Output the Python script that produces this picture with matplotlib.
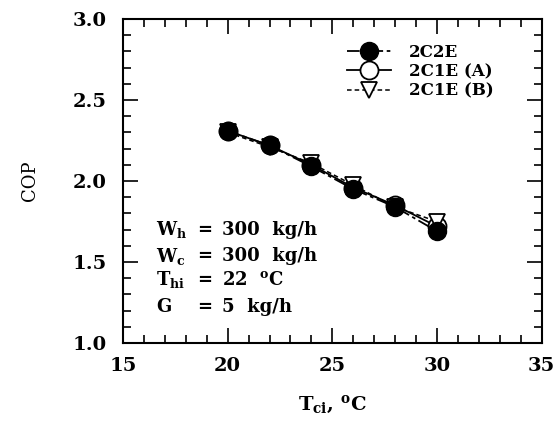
import numpy as np
import matplotlib.pyplot as plt
from matplotlib.ticker import MultipleLocator

plt.rcParams['font.family'] = 'DejaVu Serif'
plt.rcParams['mathtext.fontset'] = 'dejavuserif'

# inlet cooling-water temperature, deg C
t_ci = [20, 22, 24, 26, 28, 30]
cop_2c2e = [2.31, 2.22, 2.09, 1.95, 1.84, 1.69]
cop_2c1e_a = [2.31, 2.22, 2.10, 1.96, 1.85, 1.72]
cop_2c1e_b = [2.30, 2.21, 2.11, 1.975, 1.84, 1.75]

cond_names = [r'$\mathbf{W_h}$', r'$\mathbf{W_c}$', r'$\mathbf{T_{hi}}$', 'G']
cond_values = ['300  kg/h', '300  kg/h', r'22  $\mathbf{^o}$C', '5  kg/h']

fig = plt.figure(figsize=(5.59, 4.24), dpi=100)
ax = fig.add_axes([0.220, 0.191, 0.749, 0.764])

ax.plot(t_ci, cop_2c2e, color='black', lw=1.3, ls=(0, (7, 2, 2, 2)),
        marker='o', ms=13, mfc='black', mec='black', label='2C2E', zorder=4)
ax.plot(t_ci, cop_2c1e_a, color='black', lw=1.3, ls='-',
        marker='o', ms=13, mfc='white', mec='black', mew=1.3, label='2C1E (A)')
ax.plot(t_ci, cop_2c1e_b, color='black', lw=1.1, ls=(0, (3, 2)),
        marker='v', ms=12, mfc='white', mec='black', mew=1.3, label='2C1E (B)')

ax.set_xlim(15, 35)
ax.set_ylim(1.0, 3.0)
ax.xaxis.set_major_locator(MultipleLocator(5))
ax.xaxis.set_minor_locator(MultipleLocator(1))
ax.yaxis.set_major_locator(MultipleLocator(0.5))
ax.yaxis.set_minor_locator(MultipleLocator(0.1))
ax.xaxis.set_major_formatter(plt.FormatStrFormatter('%d'))
ax.yaxis.set_major_formatter(plt.FormatStrFormatter('%.1f'))
ax.tick_params(which='both', direction='in', top=True, right=True, width=1.2)
ax.tick_params(which='major', length=11, labelsize=14)
ax.tick_params(axis='y', which='major', pad=12)
ax.tick_params(axis='x', which='major', pad=10)
ax.tick_params(which='minor', length=6)
for lab in ax.get_xticklabels() + ax.get_yticklabels():
    lab.set_fontweight('bold')
for sp in ax.spines.values():
    sp.set_linewidth(1.5)

ax.set_ylabel('COP', fontsize=13, labelpad=24)
ax.set_xlabel(r'$\mathbf{T_{ci}}$, $\mathbf{^o}$C', fontsize=14,
              fontweight='bold', labelpad=14)

leg = ax.legend(loc='upper left', bbox_to_anchor=(0.52, 0.945), frameon=False,
                fontsize=12, handlelength=2.6, handletextpad=1.1,
                labelspacing=0.15, borderaxespad=0)
for txt in leg.get_texts():
    txt.set_fontweight('bold')

# operating conditions block
ys = [1.70, 1.535, 1.39, 1.225]
for name, val, y in zip(cond_names, cond_values, ys):
    ax.text(16.6, y, name, fontsize=13, fontweight='bold', va='center')
    ax.text(18.55, y, '=', fontsize=13, fontweight='bold', va='center')
    ax.text(19.75, y, val, fontsize=13, fontweight='bold', va='center')

fig.savefig('out.png', dpi=100)
